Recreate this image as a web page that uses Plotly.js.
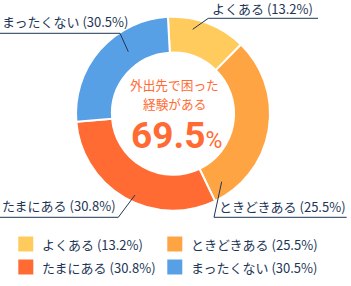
<!DOCTYPE html>
<html><head><meta charset="utf-8">
<script src="https://cdn.plot.ly/plotly-3.0.1.min.js"></script>
<style>html,body{margin:0;padding:0;background:#fff}#c{width:351px;height:286px}</style>
</head><body><div id="c"></div>
<script>
// Data
const categories = ['よくある', 'ときどきある', 'たまにある', 'まったくない'];
const labelPercents = [13.2, 25.5, 30.8, 30.5];     // printed in the labels
const ringShares = [13.2, 30.5, 30.8, 25.5];        // slice sizes as drawn in the ring
const centerLines = ['外出先で困った', '経験がある'];
const centerValue = '69.5';
const colors = ['#FFCB5C', '#FFA443', '#FF6B33', '#57A0E6'];

const W = 351, H = 286;
const NAVY = '#1E3656';
const FONT = 'Noto Sans CJK JP, Noto Sans, sans-serif';
const px = x => x / W, py = y => 1 - y / H;

const cx = 173, cy = 113.7, R = 97;

const trace = {
  type: 'pie',
  labels: categories,
  values: ringShares,
  sort: false,
  direction: 'clockwise',
  rotation: -3,
  hole: 0.63,
  textinfo: 'none',
  hoverinfo: 'none',
  showlegend: false,
  marker: {colors: colors, line: {color: '#ffffff', width: 2}},
  domain: {x: [px(cx - R), px(cx + R)], y: [py(cy + R), py(cy - R)]}
};

const labelText = i => categories[i] + ' (' + labelPercents[i].toFixed(1) + '%)';

// leader lines (pixel positions for label layout)
const leaders = [
  [[192.7, 29.3], [208.3, 18.3], [318, 18.3]],
  [[221.7, 181.7], [214, 217.3], [346.7, 217.3]],
  [[135, 195], [118.3, 217.3], [0, 217.3]],
  [[128.3, 51.7], [120, 33.3], [0, 33.3]]
];
const labelPos = [[211, 9], [218, 206], [1, 205], [1, 22]];

const shapes = [];
const annotations = [];
leaders.forEach(pts => {
  const path = pts.map((p, k) => (k ? 'L' : 'M') + px(p[0]) + ',' + py(p[1])).join(' ');
  shapes.push({type: 'path', xref: 'paper', yref: 'paper', path: path,
    line: {color: NAVY, width: 1}});
});
labelPos.forEach((p, i) => {
  annotations.push({xref: 'paper', yref: 'paper', x: px(p[0]), y: py(p[1]),
    xanchor: 'left', yanchor: 'middle', showarrow: false, text: labelText(i),
    borderpad: 0, font: {family: FONT, size: 13, color: NAVY}});
});

// legend (2 columns)
const legCols = [18.3, 167.3], legRows = [244, 267], sq = 15;
categories.forEach((c, i) => {
  const x0 = legCols[i % 2], yc = legRows[Math.floor(i / 2)];
  shapes.push({type: 'rect', xref: 'paper', yref: 'paper',
    x0: px(x0), x1: px(x0 + sq), y0: py(yc + sq / 2), y1: py(yc - sq / 2),
    fillcolor: colors[i], line: {width: 0}});
  annotations.push({xref: 'paper', yref: 'paper', x: px(x0 + 23), y: py(yc),
    xanchor: 'left', yanchor: 'middle', showarrow: false, text: labelText(i),
    borderpad: 0, font: {family: FONT, size: 13, color: NAVY}});
});

// center text (one annotation per line)
const centerY = [84.5, 103];
centerLines.forEach((t, k) => {
  annotations.push({xref: 'paper', yref: 'paper', x: px(cx + 1), y: py(centerY[k]),
    xanchor: 'center', yanchor: 'middle', showarrow: false, text: t,
    borderpad: 0, font: {family: FONT, size: 12.7, color: '#FF6B33'}});
});
annotations.push({xref: 'paper', yref: 'paper', x: px(cx + 3), y: py(112.8),
  xanchor: 'center', yanchor: 'top', showarrow: false, borderpad: 0,
  text: '<b>' + centerValue + '</b><span style="font-size:23px">%</span>',
  font: {family: 'Roboto, Noto Sans, sans-serif', size: 37, color: '#FF6B33'}});

const layout = {
  width: W, height: H,
  margin: {l: 0, r: 0, t: 0, b: 0},
  paper_bgcolor: '#ffffff',
  showlegend: false,
  shapes: shapes,
  annotations: annotations
};

Plotly.newPlot('c', [trace], layout, {staticPlot: true, displayModeBar: false});
</script>
</body></html>
